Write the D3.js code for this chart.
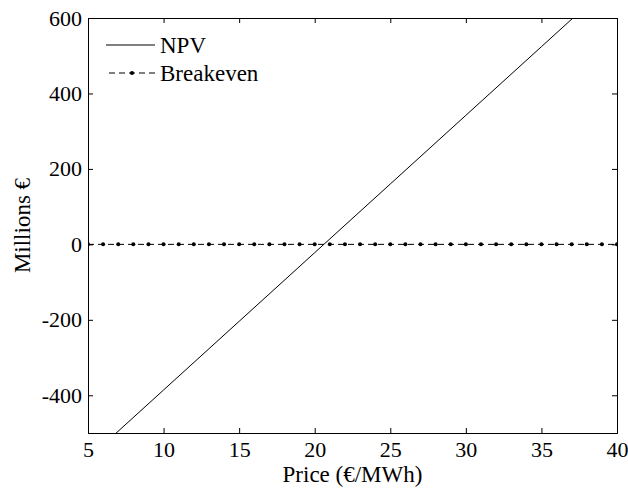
<!DOCTYPE html>
<html>
<head>
<meta charset="utf-8">
<script src="https://cdn.jsdelivr.net/npm/d3@7"></script>
<style>
  body { margin: 0; background: #fff; }
  svg text { font-family: "Liberation Serif", "Times New Roman", serif; fill: #000; }
</style>
</head>
<body>
<div id="chart"></div>
<script>
// price points (€/MWh) and NPV values (millions €)
const npvPrices = [5, 10, 15, 20, 25, 30, 35, 40];
const npvValues = [-568, -386, -204, -22, 160, 342, 524, 706];

// breakeven line markers, one per €/MWh
const breakevenPrices = [5, 6, 7, 8, 9, 10, 11, 12, 13, 14, 15, 16, 17, 18, 19, 20, 21, 22,
  23, 24, 25, 26, 27, 28, 29, 30, 31, 32, 33, 34, 35, 36, 37, 38, 39, 40];
const breakevenValues = breakevenPrices.map(() => 0);

const xTicks = [5, 10, 15, 20, 25, 30, 35, 40];
const yTicks = [-400, -200, 0, 200, 400, 600];

const width = 628, height = 489;
const margin = { top: 18, right: 11, bottom: 56, left: 88 };
const innerW = width - margin.left - margin.right;
const innerH = height - margin.top - margin.bottom;

const svg = d3.select("#chart").append("svg")
  .attr("width", width)
  .attr("height", height);

const g = svg.append("g")
  .attr("transform", `translate(${margin.left},${margin.top})`);

const x = d3.scaleLinear().domain([5, 40]).range([0, innerW]);
const y = d3.scaleLinear().domain([-500, 600]).range([innerH, 0]);

// clip to the axes box
svg.append("defs").append("clipPath").attr("id", "clip")
  .append("rect").attr("width", innerW).attr("height", innerH);

const plot = g.append("g").attr("clip-path", "url(#clip)");

const npvData = npvPrices.map((p, i) => ({ p, v: npvValues[i] }));
const beData = breakevenPrices.map((p, i) => ({ p, v: breakevenValues[i] }));

const line = d3.line().x(d => x(d.p)).y(d => y(d.v));

plot.append("path")
  .datum(npvData)
  .attr("fill", "none")
  .attr("stroke", "#000")
  .attr("stroke-width", 1)
  .attr("d", line);

plot.append("path")
  .datum(beData)
  .attr("fill", "none")
  .attr("stroke", "#000")
  .attr("stroke-width", 1)
  .attr("stroke-dasharray", "6,4")
  .attr("d", line);

plot.selectAll("circle.be")
  .data(beData)
  .join("circle")
  .attr("class", "be")
  .attr("cx", d => x(d.p))
  .attr("cy", d => y(d.v))
  .attr("r", 2)
  .attr("fill", "#000");

// axes: ticks pointing inwards, on all four sides
const fmt = d => String(d); // plain hyphen minus like the original
const xAxis = g.append("g")
  .attr("transform", `translate(0,${innerH})`)
  .call(d3.axisBottom(x).tickValues(xTicks).tickFormat(fmt).tickSize(-5).tickPadding(8));
const yAxis = g.append("g")
  .call(d3.axisLeft(y).tickValues(yTicks).tickFormat(fmt).tickSize(-5).tickPadding(6));
const xTop = g.append("g")
  .call(d3.axisTop(x).tickValues(xTicks).tickSize(-5).tickFormat(""));
const yRight = g.append("g")
  .attr("transform", `translate(${innerW},0)`)
  .call(d3.axisRight(y).tickValues(yTicks).tickSize(-5).tickFormat(""));

[xAxis, yAxis, xTop, yRight].forEach(a => {
  a.attr("font-family", null).attr("font-size", null);
  a.selectAll("text").style("font-size", "22px");
  a.selectAll("line, path").attr("stroke", "#000");
});

// axis titles
svg.append("text")
  .attr("x", margin.left + innerW / 2)
  .attr("y", 482)
  .attr("text-anchor", "middle")
  .style("font-size", "23px")
  .text("Price (€/MWh)");

svg.append("text")
  .attr("transform", `translate(30,${margin.top + innerH / 2}) rotate(-90)`)
  .attr("text-anchor", "middle")
  .style("font-size", "23px")
  .text("Millions €");

// legend (no box)
const legend = g.append("g").attr("transform", "translate(18,0)");
const legendItems = [
  { name: "NPV", dash: null, marker: false },
  { name: "Breakeven", dash: "6,4", marker: true }
];
const item = legend.selectAll("g.item")
  .data(legendItems)
  .join("g")
  .attr("class", "item")
  .attr("transform", (d, i) => `translate(0,${27 + i * 28})`);

item.append("line")
  .attr("x1", d => d.marker ? 3 : 0)
  .attr("x2", 49)
  .attr("stroke", "#000")
  .attr("stroke-width", 1)
  .attr("stroke-dasharray", d => d.dash);

item.filter(d => d.marker).append("circle")
  .attr("cx", 26)
  .attr("r", 2)
  .attr("fill", "#000");

item.append("text")
  .attr("x", 54)
  .attr("dy", "0.33em")
  .style("font-size", "23px")
  .text(d => d.name);
</script>
</body>
</html>
